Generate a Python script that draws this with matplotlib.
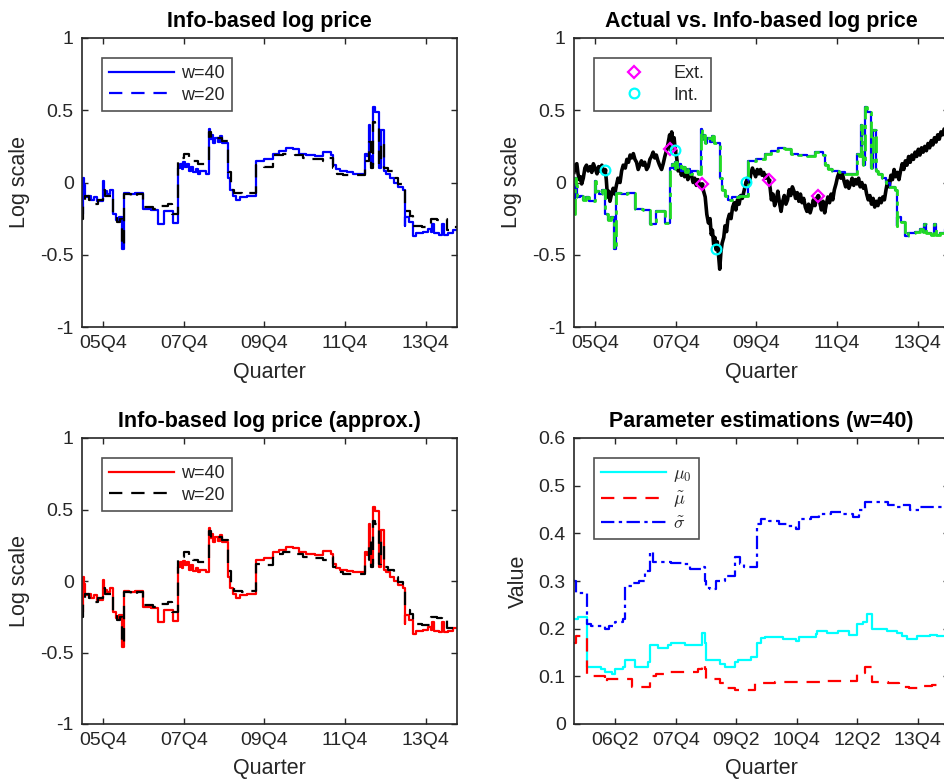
import matplotlib
matplotlib.use('Agg')
from matplotlib import pyplot as plt

plt.rcParams['font.family'] = ['Liberation Sans', 'DejaVu Sans']
plt.rcParams['mathtext.fontset'] = 'cm'
plt.rcParams['axes.unicode_minus'] = False

# time axis in years, 05Q4 -> 2005.75
def qt(label):
    return 2000 + int(label[:2]) + (int(label[3]) - 1) / 4.0

x_min = 2005.23
x_max = 2014.52

top_ticks = ['05Q4', '07Q4', '09Q4', '11Q4', '13Q4']
par_ticks = ['06Q2', '07Q4', '09Q2', '10Q4', '12Q2', '13Q4']
log_yticks = [-1, -0.5, 0, 0.5, 1]
log_ylabels = ['-1', '-0.5', '0', '0.5', '1']
par_yticks = [0, 0.1, 0.2, 0.3, 0.4, 0.5, 0.6]
par_ylabels = ['0', '0.1', '0.2', '0.3', '0.4', '0.5', '0.6']

# info-based log price, w=40 (step series)
t40 = [2005.23, 2005.25, 2005.29, 2005.31, 2005.38, 2005.45, 2005.52, 2005.60, 2005.74, 2005.77,
       2005.84, 2005.93, 2006.01, 2006.08, 2006.15, 2006.22, 2006.27, 2006.40, 2006.55, 2006.75,
       2006.95, 2007.12, 2007.25, 2007.49, 2007.62, 2007.66, 2007.70, 2007.74, 2007.78, 2007.82,
       2007.87, 2007.92, 2007.97, 2008.05, 2008.10, 2008.15, 2008.30, 2008.38, 2008.41, 2008.45,
       2008.48, 2008.53, 2008.60, 2008.65, 2008.70, 2008.85, 2008.89, 2008.98, 2009.05, 2009.15,
       2009.31, 2009.55, 2009.75, 2009.96, 2010.10, 2010.29, 2010.46, 2010.60, 2010.79, 2011.00,
       2011.20, 2011.40, 2011.45, 2011.52, 2011.61, 2011.80, 2011.94, 2012.23, 2012.30, 2012.33,
       2012.36, 2012.40, 2012.45, 2012.48, 2012.60, 2012.64, 2012.70, 2012.76, 2012.87, 2012.97,
       2013.07, 2013.17, 2013.22, 2013.24, 2013.33, 2013.42, 2013.50, 2013.67, 2013.80, 2013.88,
       2013.91, 2013.95, 2014.08, 2014.15, 2014.20, 2014.30, 2014.41, 2014.52]
y40 = [-0.22, 0.03, -0.02, -0.10, -0.09, -0.12, -0.10, -0.13, 0.01, -0.06,
       -0.08, -0.05, -0.22, -0.26, -0.24, -0.46, -0.07, -0.08, -0.07, -0.18,
       -0.19, -0.29, -0.20, -0.28, 0.10, 0.13, 0.09, 0.14, 0.11, 0.13,
       0.08, 0.11, 0.07, 0.09, 0.06, 0.08, 0.06, 0.37, 0.30, 0.33,
       0.27, 0.31, 0.28, 0.32, 0.27, 0.03, -0.05, -0.09, -0.12, -0.10,
       -0.09, 0.15, 0.16, 0.20, 0.22, 0.24, 0.23, 0.20, 0.19, 0.18,
       0.21, 0.19, 0.12, 0.09, 0.08, 0.07, 0.06, 0.20, 0.18, 0.40,
       0.18, 0.12, 0.52, 0.49, 0.10, 0.36, 0.08, 0.06, 0.03, 0.00,
       -0.03, -0.05, -0.30, -0.24, -0.27, -0.37, -0.35, -0.34, -0.32, -0.34,
       -0.29, -0.35, -0.36, -0.29, -0.36, -0.35, -0.33, -0.33]

# info-based log price, w=20
t20 = [2005.23, 2005.26, 2005.30, 2005.40, 2005.50, 2005.62, 2005.75, 2005.80, 2005.95, 2006.01,
       2006.10, 2006.18, 2006.22, 2006.27, 2006.45, 2006.60, 2006.75, 2007.00, 2007.12, 2007.35,
       2007.47, 2007.62, 2007.75, 2007.87, 2007.98, 2008.10, 2008.38, 2008.43, 2008.55, 2008.70,
       2008.85, 2008.92, 2009.00, 2009.20, 2009.31, 2009.55, 2009.75, 2009.96, 2010.20, 2010.50,
       2010.70, 2010.90, 2011.20, 2011.35, 2011.45, 2011.55, 2011.70, 2011.94, 2012.23, 2012.33,
       2012.38, 2012.45, 2012.48, 2012.60, 2012.64, 2012.70, 2012.82, 2012.95, 2013.05, 2013.17,
       2013.22, 2013.35, 2013.42, 2013.65, 2013.88, 2014.02, 2014.15, 2014.28, 2014.45, 2014.52]
y20 = [-0.25, -0.12, -0.09, -0.12, -0.15, -0.12, -0.05, -0.09, -0.08, -0.23,
       -0.27, -0.25, -0.44, -0.08, -0.10, -0.08, -0.17, -0.18, -0.16, -0.15,
       -0.22, 0.17, 0.20, 0.17, 0.15, 0.13, 0.35, 0.30, 0.31, 0.29,
       0.07, -0.05, -0.07, -0.08, -0.07, 0.12, 0.11, 0.19, 0.20, 0.19,
       0.17, 0.16, 0.15, 0.17, 0.10, 0.06, 0.05, 0.05, 0.15, 0.28,
       0.10, 0.42, 0.40, 0.12, 0.28, 0.10, 0.08, 0.03, -0.01, -0.02,
       -0.20, -0.23, -0.30, -0.31, -0.25, -0.26, -0.25, -0.33, -0.31, -0.31]

# actual log price
t_act = [2005.23, 2005.26, 2005.30, 2005.33, 2005.36, 2005.39, 2005.42, 2005.46, 2005.50, 2005.54,
         2005.58, 2005.63, 2005.67, 2005.71, 2005.75, 2005.80, 2005.84, 2005.87, 2005.92, 2005.96,
         2006.00, 2006.03, 2006.06, 2006.09, 2006.12, 2006.16, 2006.20, 2006.24, 2006.28, 2006.32,
         2006.37, 2006.41, 2006.45, 2006.50, 2006.54, 2006.58, 2006.62, 2006.66, 2006.70, 2006.74,
         2006.78, 2006.82, 2006.86, 2006.90, 2006.94, 2006.98, 2007.03, 2007.07, 2007.11, 2007.15,
         2007.19, 2007.23, 2007.27, 2007.31, 2007.35, 2007.40, 2007.44, 2007.48, 2007.52, 2007.56,
         2007.60, 2007.62, 2007.65, 2007.68, 2007.71, 2007.74, 2007.77, 2007.81, 2007.85, 2007.89,
         2007.93, 2007.97, 2008.01, 2008.05, 2008.10, 2008.14, 2008.18, 2008.22, 2008.26, 2008.30,
         2008.35, 2008.40, 2008.44, 2008.48, 2008.52, 2008.56, 2008.60, 2008.63, 2008.66, 2008.69,
         2008.72, 2008.75, 2008.78, 2008.81, 2008.84, 2008.87, 2008.90, 2008.94, 2008.97, 2009.01,
         2009.04, 2009.08, 2009.12, 2009.16, 2009.20, 2009.24, 2009.28, 2009.32, 2009.36, 2009.40,
         2009.45, 2009.49, 2009.53, 2009.57, 2009.61, 2009.65, 2009.69, 2009.73, 2009.77, 2009.81,
         2009.85, 2009.89, 2009.93, 2009.97, 2010.01, 2010.05, 2010.09, 2010.12, 2010.16, 2010.20,
         2010.24, 2010.28, 2010.32, 2010.36, 2010.40, 2010.44, 2010.48, 2010.52, 2010.56, 2010.60,
         2010.64, 2010.68, 2010.72, 2010.76, 2010.80, 2010.84, 2010.88, 2010.92, 2010.96, 2011.00,
         2011.04, 2011.08, 2011.12, 2011.16, 2011.20, 2011.24, 2011.28, 2011.32, 2011.36, 2011.40,
         2011.44, 2011.48, 2011.52, 2011.56, 2011.60, 2011.64, 2011.68, 2011.72, 2011.76, 2011.80,
         2011.84, 2011.88, 2011.92, 2011.96, 2012.00, 2012.04, 2012.08, 2012.12, 2012.16, 2012.20,
         2012.24, 2012.28, 2012.32, 2012.36, 2012.40, 2012.44, 2012.48, 2012.52, 2012.56, 2012.60,
         2012.64, 2012.68, 2012.72, 2012.76, 2012.80, 2012.84, 2012.88, 2012.92, 2012.96, 2013.00,
         2013.04, 2013.08, 2013.12, 2013.16, 2013.20, 2013.24, 2013.28, 2013.32, 2013.36, 2013.40,
         2013.44, 2013.48, 2013.52, 2013.56, 2013.60, 2013.64, 2013.68, 2013.72, 2013.76, 2013.80,
         2013.84, 2013.88, 2013.92, 2013.96, 2014.00, 2014.04, 2014.08, 2014.12, 2014.16, 2014.20,
         2014.24, 2014.28, 2014.32, 2014.36, 2014.40, 2014.45, 2014.52]
y_act = [0.07, 0.12, 0.13, 0.06, 0.02, 0.04, -0.01, 0.03, 0.10, 0.12,
         0.08, 0.11, 0.07, 0.13, 0.10, 0.06, 0.11, 0.08, 0.12, 0.07,
         0.09, 0.02, -0.10, -0.06, -0.13, -0.08, -0.04, -0.08, -0.02, 0.03,
         0.00, 0.08, 0.12, 0.10, 0.16, 0.14, 0.19, 0.17, 0.20, 0.16,
         0.14, 0.09, 0.12, 0.15, 0.12, 0.14, 0.09, 0.11, 0.16, 0.18,
         0.21, 0.17, 0.19, 0.15, 0.12, 0.09, 0.13, 0.18, 0.22, 0.27,
         0.33, 0.24, 0.35, 0.27, 0.31, 0.22, 0.18, 0.08, 0.12, 0.05,
         0.10, 0.04, 0.09, 0.02, 0.07, 0.05, 0.00, 0.03, -0.02, 0.02,
         -0.03, -0.01, -0.06, -0.10, -0.22, -0.28, -0.25, -0.36, -0.33, -0.43,
         -0.38, -0.46, -0.41, -0.50, -0.60, -0.48, -0.42, -0.38, -0.30, -0.34,
         -0.26, -0.22, -0.25, -0.17, -0.14, -0.19, -0.12, -0.15, -0.09, -0.11,
         -0.05, 0.00, 0.03, -0.01, 0.06, 0.10, 0.07, 0.04, 0.09, 0.06,
         0.09, 0.05, 0.07, 0.03, 0.05, 0.02, -0.04, -0.12, -0.08, -0.16,
         -0.12, -0.06, -0.14, -0.20, -0.13, -0.09, -0.15, -0.12, -0.05, -0.09,
         -0.03, -0.06, -0.11, -0.07, -0.13, -0.08, -0.14, -0.11, -0.17, -0.20,
         -0.15, -0.21, -0.17, -0.12, -0.16, -0.11, -0.09, -0.14, -0.19, -0.13,
         -0.21, -0.15, -0.10, -0.14, -0.08, -0.12, -0.05, -0.01, 0.04, 0.07,
         0.03, 0.06, 0.01, -0.03, 0.01, -0.04, -0.01, 0.03, -0.02, 0.02,
         -0.01, 0.03, -0.03, 0.00, -0.04, -0.02, -0.08, -0.12, -0.09, -0.15,
         -0.11, -0.17, -0.13, -0.16, -0.11, -0.14, -0.10, -0.12, -0.05, 0.01,
         -0.03, 0.05, 0.02, 0.09, 0.04, 0.07, 0.02, 0.08, 0.13, 0.09,
         0.15, 0.12, 0.18, 0.14, 0.19, 0.16, 0.21, 0.18, 0.23, 0.19,
         0.24, 0.21, 0.25, 0.22, 0.27, 0.24, 0.29, 0.26, 0.31, 0.28,
         0.33, 0.30, 0.35, 0.33, 0.37, 0.35, 0.38]

# turning points
ext_t = [2007.62, 2008.40, 2010.05, 2011.28]
ext_y = [0.235, -0.01, 0.016, -0.094]
int_t = [2006.00, 2007.74, 2008.75, 2009.49]
int_y = [0.085, 0.224, -0.463, 0.005]

# parameter estimations (w=40)
t_mu0 = [2005.23, 2005.34, 2005.54, 2005.56, 2005.91, 2006.00, 2006.16, 2006.24, 2006.45, 2006.49,
         2006.74, 2007.07, 2007.12, 2007.31, 2007.56, 2007.64, 2007.97, 2008.41, 2008.47, 2008.51,
         2008.84, 2008.96, 2009.21, 2009.29, 2009.62, 2009.77, 2009.87, 2009.95, 2010.40, 2010.73,
         2010.81, 2011.22, 2011.26, 2011.51, 2011.76, 2012.05, 2012.25, 2012.38, 2012.50, 2012.61,
         2012.99, 2013.24, 2013.36, 2013.49, 2013.73, 2014.06, 2014.22, 2014.52]
mu0 = [0.22, 0.225, 0.22, 0.12, 0.115, 0.11, 0.105, 0.115, 0.12, 0.135,
       0.12, 0.13, 0.165, 0.16, 0.165, 0.17, 0.165, 0.19, 0.17, 0.135,
       0.125, 0.12, 0.13, 0.135, 0.14, 0.17, 0.18, 0.183, 0.178, 0.175,
       0.183, 0.188, 0.195, 0.19, 0.195, 0.187, 0.21, 0.215, 0.23, 0.20,
       0.195, 0.19, 0.185, 0.178, 0.185, 0.187, 0.185, 0.185]

t_mut = [2005.23, 2005.27, 2005.56, 2005.91, 2006.00, 2006.05, 2006.30, 2006.66, 2006.90, 2007.12,
         2007.25, 2007.56, 2007.97, 2008.30, 2008.41, 2008.47, 2008.51, 2008.84, 2008.96, 2009.21,
         2009.62, 2009.72, 2010.20, 2011.40, 2011.76, 2012.25, 2012.45, 2012.61, 2013.00, 2013.28,
         2013.53, 2013.85, 2014.10, 2014.52]
mut = [0.17, 0.185, 0.10, 0.10, 0.085, 0.095, 0.095, 0.077, 0.077, 0.10,
       0.105, 0.11, 0.11, 0.115, 0.125, 0.115, 0.095, 0.085, 0.075, 0.072,
       0.072, 0.085, 0.088, 0.09, 0.09, 0.108, 0.12, 0.088, 0.087, 0.078,
       0.075, 0.08, 0.082, 0.08]

t_sig = [2005.23, 2005.27, 2005.56, 2005.65, 2006.00, 2006.10, 2006.24, 2006.45, 2006.49, 2006.70,
         2006.85, 2007.00, 2007.12, 2007.18, 2007.35, 2007.64, 2007.90, 2008.10, 2008.41, 2008.47,
         2008.51, 2008.60, 2008.75, 2008.96, 2009.21, 2009.33, 2009.45, 2009.77, 2009.87, 2010.05,
         2010.30, 2010.50, 2010.73, 2010.81, 2011.10, 2011.30, 2011.60, 2011.90, 2012.15, 2012.30,
         2012.45, 2012.80, 2013.00, 2013.20, 2013.35, 2013.55, 2013.80, 2014.10, 2014.35, 2014.52]
sig = [0.30, 0.275, 0.21, 0.205, 0.20, 0.205, 0.215, 0.22, 0.29, 0.295,
       0.30, 0.32, 0.36, 0.34, 0.34, 0.338, 0.335, 0.325, 0.33, 0.30,
       0.285, 0.283, 0.30, 0.31, 0.35, 0.335, 0.33, 0.42, 0.43, 0.425,
       0.42, 0.415, 0.41, 0.43, 0.435, 0.44, 0.445, 0.44, 0.435, 0.45,
       0.465, 0.465, 0.46, 0.455, 0.46, 0.448, 0.455, 0.455, 0.46, 0.465]

green = '#22dd22'
spine_c = '#262626'
dash = (6, 4)
dashdot = (6, 2, 1.5, 2)

fig = plt.figure(figsize=(9.44, 7.79), dpi=100)
W = 944.0
H = 779.0
ax1 = fig.add_axes([82 / W, 1 - 327 / H, 375 / W, 289 / H])
ax2 = fig.add_axes([574 / W, 1 - 327 / H, 375 / W, 289 / H])
ax3 = fig.add_axes([82 / W, 1 - 724 / H, 375 / W, 286 / H])
ax4 = fig.add_axes([574 / W, 1 - 724 / H, 375 / W, 286 / H])


def style(ax, title, ylabel, ticks, yticks, ylabels, ylim):
    ax.set_xlim(x_min, x_max)
    ax.set_ylim(ylim)
    ax.set_xticks([qt(s) for s in ticks])
    ax.set_xticklabels(ticks)
    ax.set_yticks(yticks)
    ax.set_yticklabels(ylabels)
    ax.tick_params(direction='in', length=4, width=1, top=True, right=True,
                   labelsize=14, colors=spine_c, pad=6)
    for s in ax.spines.values():
        s.set_linewidth(1.2)
        s.set_color(spine_c)
    ax.set_title(title, fontsize=15.5, fontweight='bold', pad=8)
    ax.set_xlabel('Quarter', fontsize=15.5, color=spine_c)
    ax.set_ylabel(ylabel, fontsize=15.5, color=spine_c)


def legend(ax, loc_xy, spacing=0.25):
    lg = ax.legend(loc='upper left', bbox_to_anchor=loc_xy, fontsize=13,
                   handlelength=3.6, handletextpad=0.4, borderpad=0.4,
                   labelspacing=spacing, borderaxespad=0, fancybox=False)
    lg.get_frame().set_edgecolor(spine_c)
    lg.get_frame().set_linewidth(1.2)
    for tx in lg.get_texts():
        tx.set_color(spine_c)
    return lg


# top left
ax1.plot(t40, y40, color='blue', lw=1.6, drawstyle='steps-post', label='w=40')
ax1.plot(t20, y20, color='black', lw=1.6, dashes=dash, drawstyle='steps-post')
ax1.plot([], [], color='blue', lw=1.6, dashes=dash, label='w=20')
style(ax1, 'Info-based log price', 'Log scale', top_ticks, log_yticks, log_ylabels, (-1, 1))
legend(ax1, (0.053, 0.931))

# top right
ax2.plot(t_act, y_act, color='black', lw=2.6)
ax2.plot(t40, y40, color='blue', lw=1.6, drawstyle='steps-post')
ax2.plot(t40, y40, color=green, lw=2, dashes=dashdot, drawstyle='steps-post')
ax2.plot(ext_t, ext_y, 'k.', ms=4)
ax2.plot(int_t, int_y, 'k.', ms=4)
ax2.plot(ext_t, ext_y, 'D', mfc='none', mec='magenta', mew=1.6, ms=6, ls='none', label='Ext.')
ax2.plot(int_t, int_y, 'o', mfc='none', mec='cyan', mew=1.6, ms=7, ls='none', label='Int.')
style(ax2, 'Actual vs. Info-based log price', 'Log scale', top_ticks, log_yticks, log_ylabels, (-1, 1))
legend(ax2, (0.053, 0.931))

# bottom left
ax3.plot(t40, y40, color='red', lw=1.6, drawstyle='steps-post', label='w=40')
ax3.plot(t20, y20, color='black', lw=1.6, dashes=dash, drawstyle='steps-post', label='w=20')
style(ax3, 'Info-based log price (approx.)', 'Log scale', top_ticks, log_yticks, log_ylabels, (-1, 1))
legend(ax3, (0.053, 0.93))

# bottom right
ax4.plot(t_mu0, mu0, color='cyan', lw=1.6, drawstyle='steps-post', label=r'$\mu_0$')
ax4.plot(t_mut, mut, color='red', lw=1.6, dashes=dash, drawstyle='steps-post', label=r'$\tilde{\mu}$')
ax4.plot(t_sig, sig, color='blue', lw=1.6, dashes=dashdot, drawstyle='steps-post', label=r'$\tilde{\sigma}$')
style(ax4, 'Parameter estimations (w=40)', 'Value', par_ticks, par_yticks, par_ylabels, (0, 0.6))
legend(ax4, (0.053, 0.93), 0.3)

for ax in (ax1, ax2, ax3):
    ax.yaxis.set_label_coords(-0.138, 0.5)
ax4.yaxis.set_label_coords(-0.12, 0.5)
for ax in (ax1, ax2, ax3, ax4):
    ax.xaxis.set_label_coords(0.5, -0.12)

plt.savefig('out.png', dpi=100)
